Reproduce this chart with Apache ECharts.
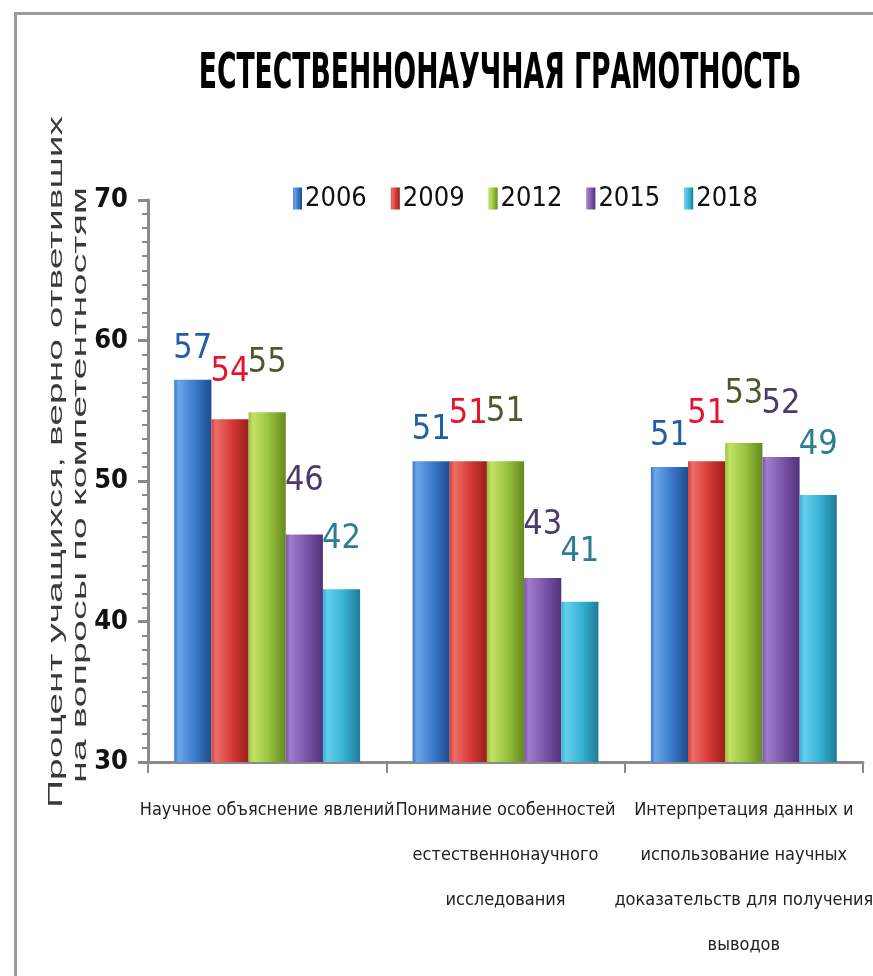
<!DOCTYPE html>
<html>
<head>
<meta charset="utf-8">
<script src="https://cdn.jsdelivr.net/npm/echarts@6/dist/echarts.min.js"></script>
<style>
  html, body { margin: 0; padding: 0; background: #fff; }
  #chart { width: 873px; height: 976px; }
</style>
</head>
<body>
<div id="chart"></div>
<script>
const titleText = 'ЕСТЕСТВЕННОНАУЧНАЯ ГРАМОТНОСТЬ';
const yAxisTitleLine1 = 'Процент учащихся, верно ответивших';
const yAxisTitleLine2 = 'на вопросы по компетентностям';
const categories = [
  'Научное объяснение явлений',
  'Понимание особенностей\nестественнонаучного\nисследования',
  'Интерпретация данных и\nиспользование научных\nдоказательств для получения\nвыводов'
];
const years = ['2006', '2009', '2012', '2015', '2018'];
const values2006 = [57.2, 51.4, 51.0];
const values2009 = [54.4, 51.4, 51.4];
const values2012 = [54.9, 51.4, 52.7];
const values2015 = [46.2, 43.1, 51.7];
const values2018 = [42.3, 41.4, 49.0];
const yTicks = [30, 40, 50, 60, 70];

const seriesValues = [values2006, values2009, values2012, values2015, values2018];
const barColors = [
  ['#6aa6ea', '#3b7bcc', '#1d4c8c'],
  ['#ee6e69', '#d63b36', '#9a1d1a'],
  ['#c2e266', '#98c23c', '#66891f'],
  ['#a17ccb', '#7b55a9', '#51327d'],
  ['#66d0ec', '#36b2d5', '#1d7b98']
];
const labelColors = ['#1f5fa8', '#e8112d', '#4b5a2c', '#4a3b6b', '#2a7d92'];
const labelDistances = [14, 30, 32, 36, 33];

const narrow = "'Liberation Sans Narrow', 'DejaVu Sans Condensed', 'Liberation Sans', sans-serif";

function grad(c) {
  return new echarts.graphic.LinearGradient(0, 0, 1, 0, [
    { offset: 0, color: c[1] },
    { offset: 0.12, color: c[0] },
    { offset: 0.55, color: c[1] },
    { offset: 1, color: c[2] }
  ]);
}

const chart = echarts.init(document.getElementById('chart'), null, { renderer: 'canvas' });

const series = years.map((y, i) => ({
  name: y,
  type: 'bar',
  data: seriesValues[i],
  barGap: '0%',
  barCategoryGap: '22%',
  itemStyle: { color: grad(barColors[i]) },
  label: {
    show: true,
    position: 'top',
    distance: labelDistances[i],
    color: labelColors[i],
    fontFamily: narrow,
    fontSize: 34,
    formatter: p => Math.round(p.value)
  }
}));

chart.setOption({
  animation: false,
  backgroundColor: '#ffffff',
  graphic: [
    {
      type: 'rect', left: 13, top: 11,
      shape: { width: 900, height: 1000 },
      style: { fill: 'none', stroke: '#9a9a9a', lineWidth: 3 },
      silent: true
    },
    {
      type: 'text', x: 500, y: 75, scaleX: 0.63, scaleY: 1.05,
      style: {
        text: titleText, fontFamily: narrow, fontWeight: 'bold', fontSize: 47,
        fill: '#000', textAlign: 'center', textVerticalAlign: 'middle'
      }
    },
    {
      type: 'text', x: 56, y: 462, rotation: Math.PI / 2, scaleX: 1.95,
      style: {
        text: yAxisTitleLine1, fontFamily: "'Liberation Sans', Arial, sans-serif", fontSize: 20,
        fill: '#3a3a3a', textAlign: 'center', textVerticalAlign: 'middle'
      }
    },
    {
      type: 'text', x: 80, y: 485, rotation: Math.PI / 2, scaleX: 1.98,
      style: {
        text: yAxisTitleLine2, fontFamily: "'Liberation Sans', Arial, sans-serif", fontSize: 20,
        fill: '#3a3a3a', textAlign: 'center', textVerticalAlign: 'middle'
      }
    }
  ],
  legend: {
    data: years,
    left: 288,
    top: 180,
    itemWidth: 9,
    itemHeight: 22,
    itemGap: 24,
    icon: 'rect',
    textStyle: { fontFamily: narrow, fontSize: 27, color: '#111', padding: [0, 0, 0, -2] }
  },
  grid: { left: 148, right: 10, top: 200, bottom: 214, containLabel: false, outerBoundsMode: 'none' },
  xAxis: {
    type: 'category',
    data: categories,
    axisLine: { lineStyle: { color: '#8a8a8a', width: 3 } },
    axisTick: { show: true, length: 11, lineStyle: { color: '#8a8a8a', width: 2 } },
    axisLabel: {
      interval: 0, margin: 26, color: '#222', fontFamily: narrow, fontSize: 18, lineHeight: 45,
      hideOverlap: false
    },
    splitLine: { show: false }
  },
  yAxis: {
    type: 'value',
    min: yTicks[0],
    max: yTicks[yTicks.length - 1],
    interval: 10,
    axisLine: { show: true, lineStyle: { color: '#8a8a8a', width: 3 } },
    axisTick: { show: true, length: 10, lineStyle: { color: '#8a8a8a', width: 3 } },
    minorTick: { show: true, splitNumber: 10, length: 6, lineStyle: { color: '#8a8a8a', width: 2 } },
    axisLabel: { margin: 20, color: '#111', fontFamily: narrow, fontWeight: 'bold', fontSize: 27 },
    splitLine: { show: false }
  },
  series: series
});
</script>
</body>
</html>
